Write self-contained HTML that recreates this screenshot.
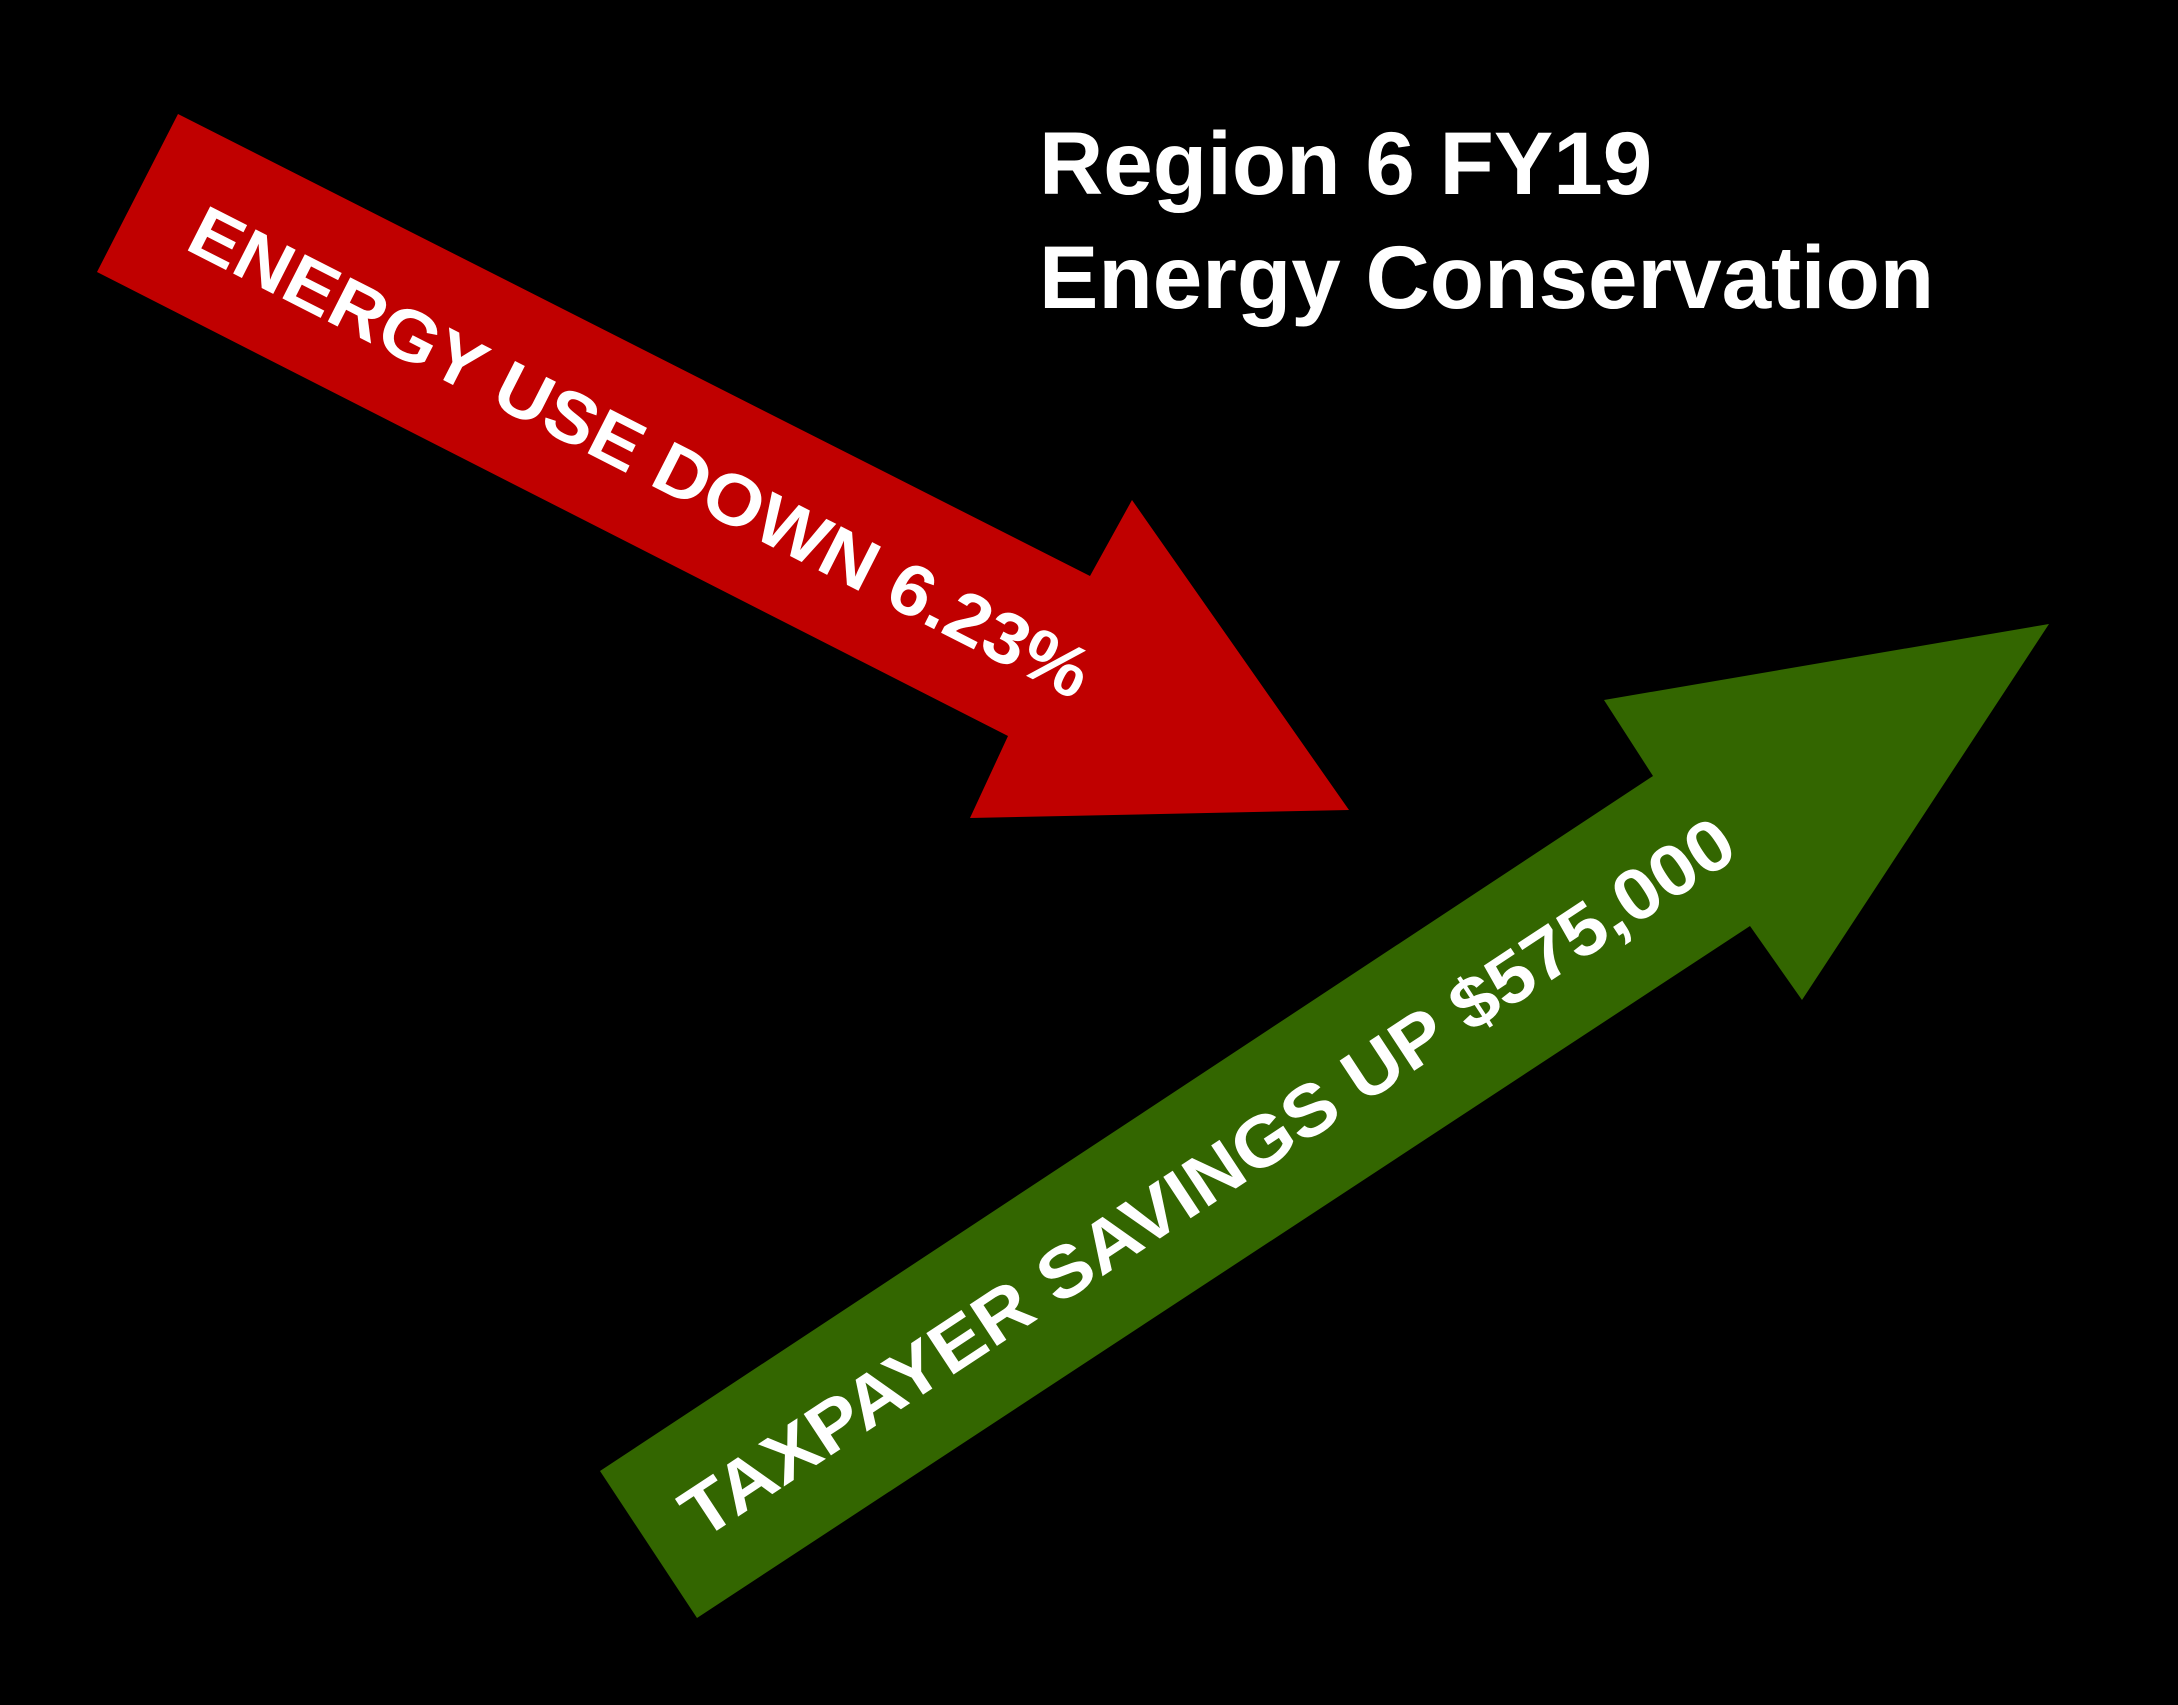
<!DOCTYPE html>
<html><head><meta charset="utf-8"><style>html,body{margin:0;padding:0;background:#000;}svg{display:block}</style></head>
<body>
<svg width="2178" height="1705" viewBox="0 0 2178 1705" xmlns="http://www.w3.org/2000/svg">
<rect width="2178" height="1705" fill="#000"/>
<polygon points="178,114 1090,576 1132,500 1349,810 970,818 1008,736 97,272" fill="#C00000"/>
<polygon points="697,1618 600,1471 1653,776 1604,700 2049,624 1802,1000 1750,926" fill="#336600"/>
<text x="1039" y="194" font-family="Liberation Sans, sans-serif" font-weight="bold" font-size="89" fill="#fff">Region 6 FY19</text>
<text x="1039" y="308" font-family="Liberation Sans, sans-serif" font-weight="bold" font-size="89" fill="#fff">Energy Conservation</text>
<text x="0" y="0" transform="translate(640,453) rotate(26.9)" text-anchor="middle" dominant-baseline="central" font-family="Liberation Sans, sans-serif" font-weight="bold" font-size="72" fill="#fff" textLength="1000" lengthAdjust="spacingAndGlyphs">ENERGY USE DOWN 6.23%</text>
<text x="0" y="0" transform="translate(1208,1178) rotate(-33.4)" text-anchor="middle" dominant-baseline="central" font-family="Liberation Sans, sans-serif" font-weight="bold" font-size="72" fill="#fff" textLength="1245" lengthAdjust="spacingAndGlyphs">TAXPAYER SAVINGS UP $575,000</text>
</svg>
</body></html>
